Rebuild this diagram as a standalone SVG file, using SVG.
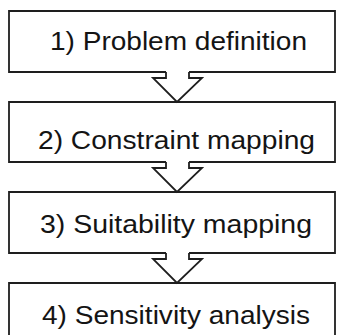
<svg xmlns="http://www.w3.org/2000/svg" width="338" height="335" viewBox="0 0 338 335">
<style>
.box{fill:none;stroke:#1e1e1e;stroke-width:1.8;stroke-linejoin:miter}
.arr{fill:none;stroke:#1e1e1e;stroke-width:1.8;stroke-linejoin:miter}
.lbl{font-family:"Liberation Sans",Arial,sans-serif;font-size:25px;fill:#141414}
</style>
<rect width="338" height="335" fill="#ffffff"/>
<g id="node1">
<path class="box" d="M166,72 H9 V11 H335 V72 H189"/>
<text class="lbl" x="50" y="50" textLength="257" lengthAdjust="spacingAndGlyphs">1) Problem definition</text>
</g>
<g id="node2">
<path class="box" d="M166,162 H9 V102 H335 V162 H189"/>
<text class="lbl" x="38" y="149" textLength="277" lengthAdjust="spacingAndGlyphs">2) Constraint mapping</text>
</g>
<g id="node3">
<path class="box" d="M166,253 H9 V192 H335 V253 H189"/>
<text class="lbl" x="40" y="233" textLength="272" lengthAdjust="spacingAndGlyphs">3) Suitability mapping</text>
</g>
<g id="node4">
<path class="box" d="M9,340 V283 H335 V340"/>
<text class="lbl" x="42" y="324" textLength="268" lengthAdjust="spacingAndGlyphs">4) Sensitivity analysis</text>
</g>
<g id="connectors">
<path class="arr" d="M166,72 V78 H153 L177,102 L202,78 H189 V72"/>
<path class="arr" d="M166,162 V168 H153 L177,192 L202,168 H189 V162"/>
<path class="arr" d="M166,253 V259 H153 L177,283 L202,259 H189 V253"/>
</g>
</svg>
